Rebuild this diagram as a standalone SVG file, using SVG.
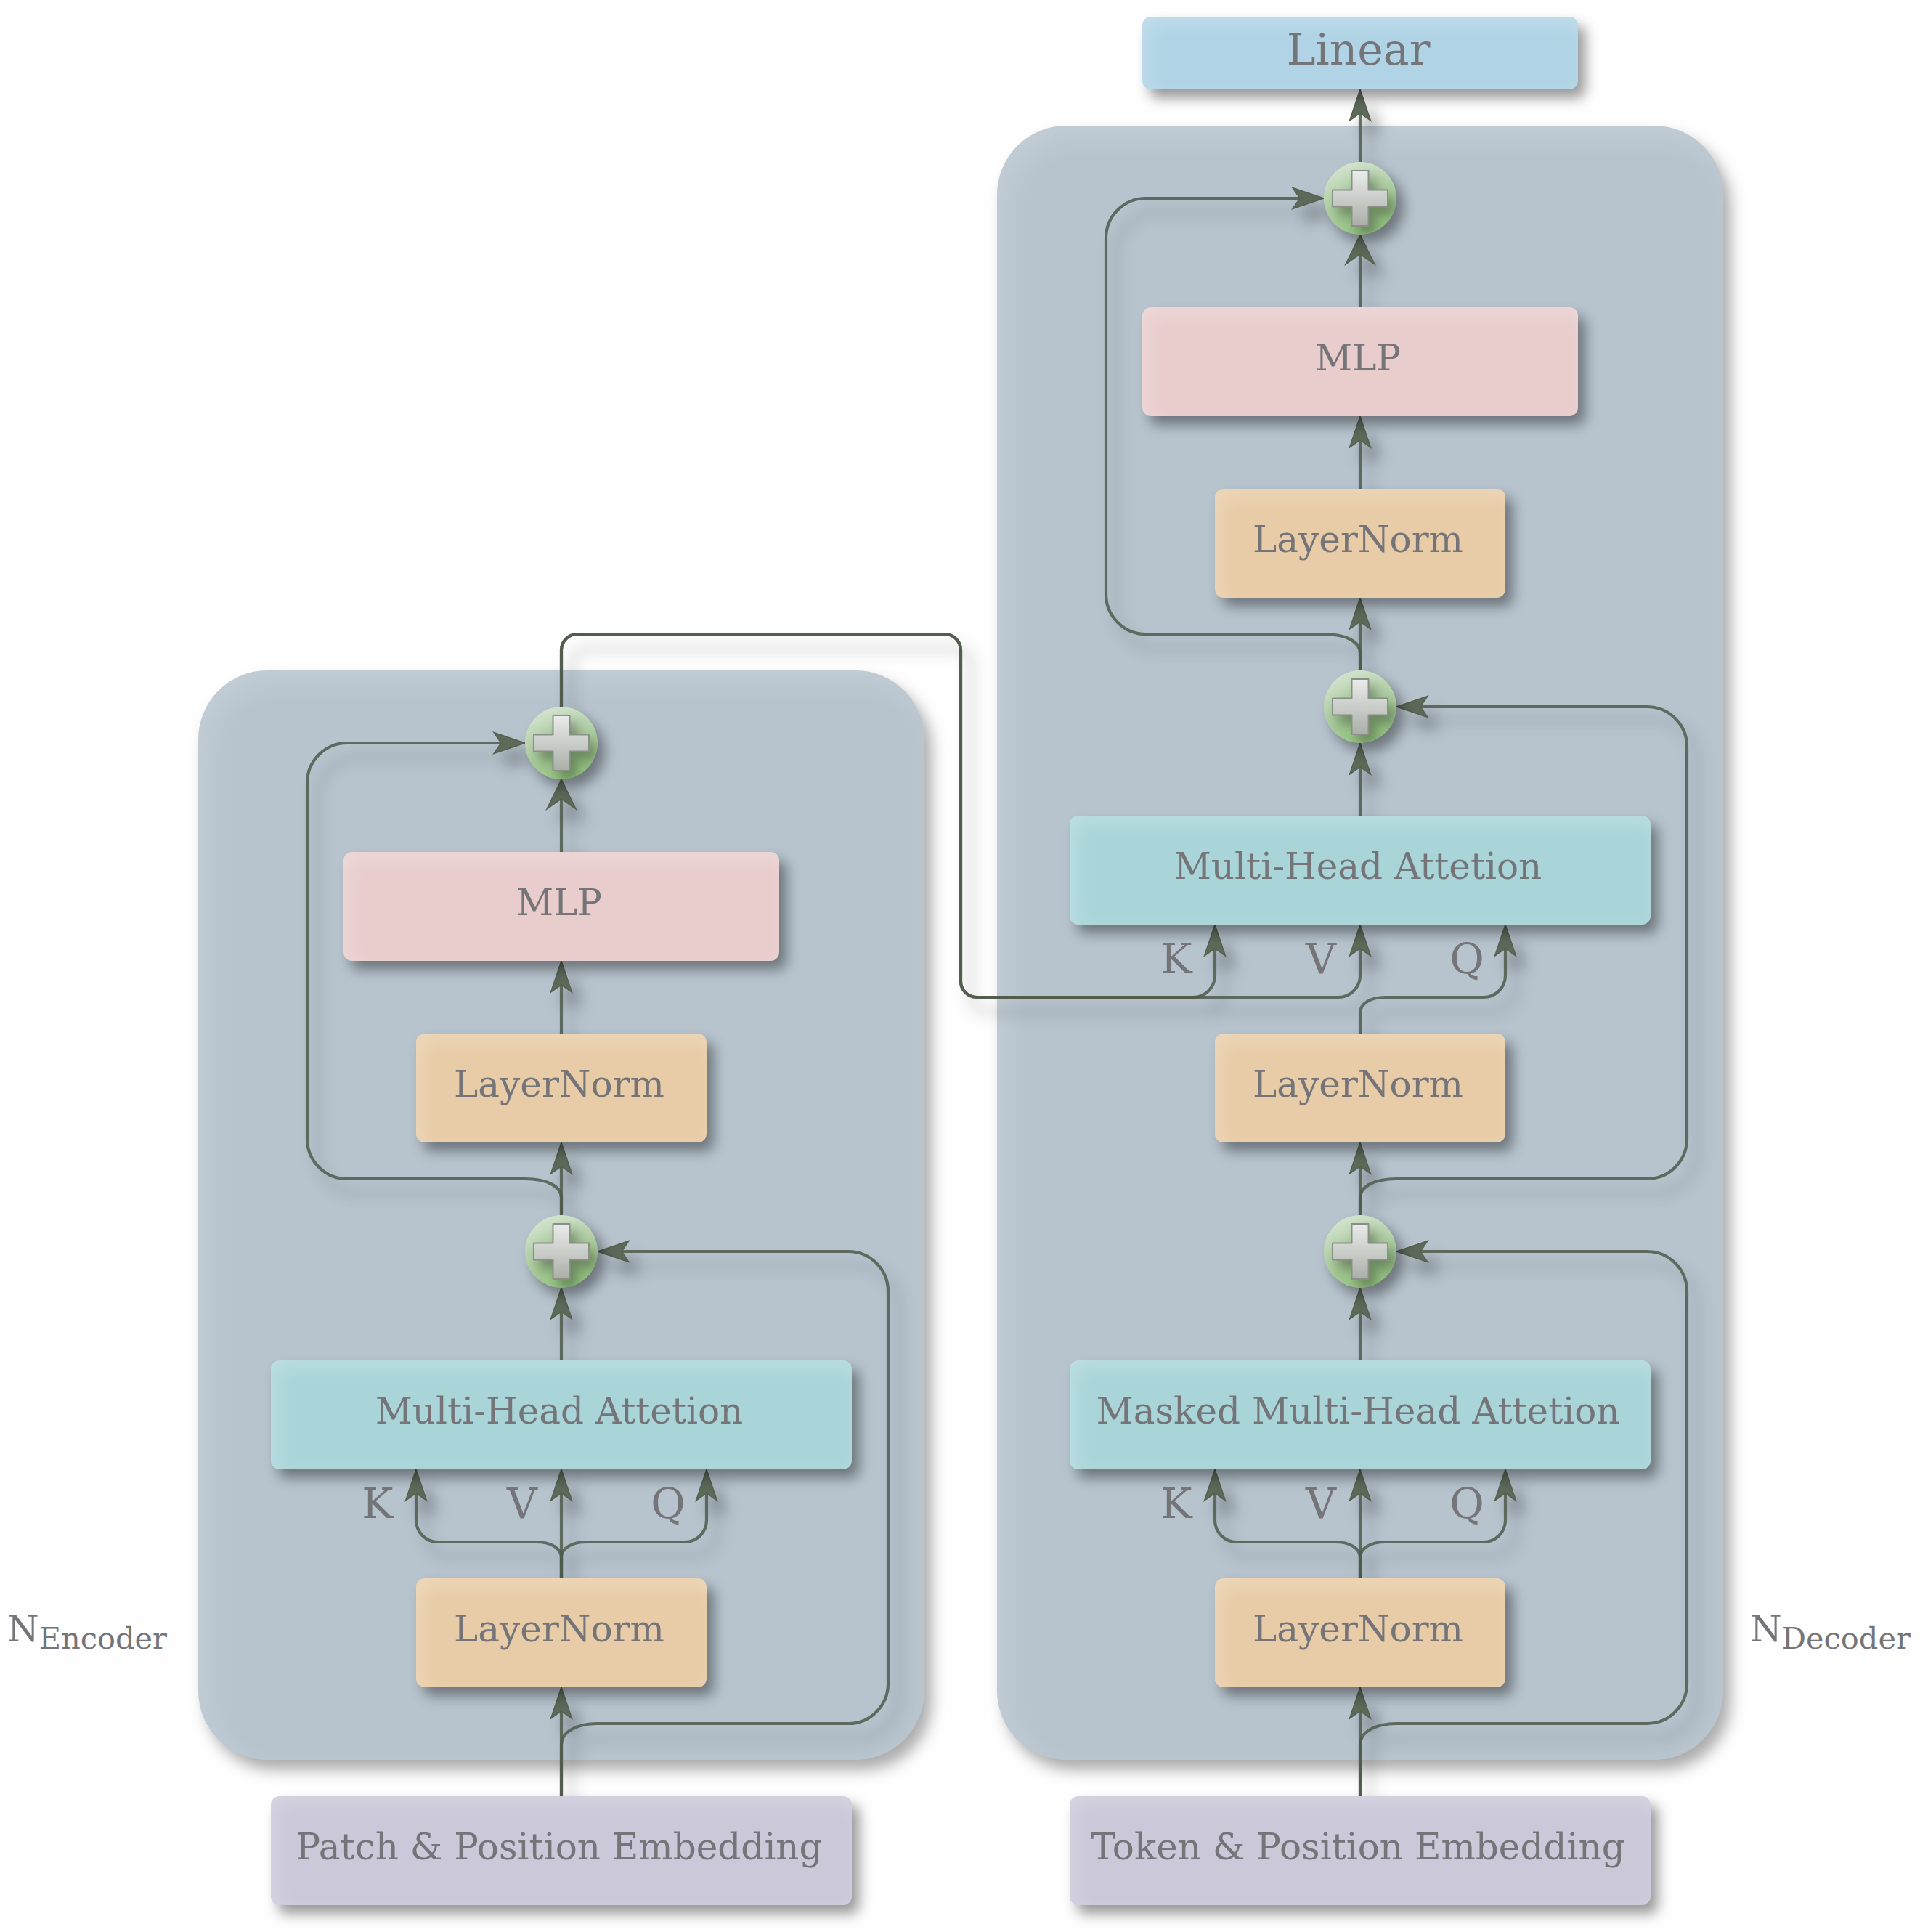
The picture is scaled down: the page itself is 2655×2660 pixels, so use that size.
<svg xmlns="http://www.w3.org/2000/svg" width="2655" height="2660" viewBox="0 0 2655 2660">
<defs>
<style>
text{font-family:"DejaVu Serif",serif;fill:#747479;text-anchor:middle;font-size:50px}
.lg{font-size:60px}
.kvq{font-size:58px}
.nl{text-anchor:start}
.sub{font-size:41.500px}
.group{fill:#b7c4ce}
.mlp{fill:#e9cdcd}
.norm{fill:#e8cca7}
.attn{fill:#a9d5d9}
.out{fill:#b0d4e5}
.embed{fill:#cbc8da}
.conn{fill:none;stroke:#4f5a4b;stroke-opacity:.85;stroke-width:4.2;marker-end:url(#head)}
.conn.big{marker-end:url(#headBig)}
.disc{fill:url(#discFill)}
.cross{fill:url(#crossFill);stroke:#899087;stroke-width:2;stroke-linejoin:round}
</style>
<linearGradient id="discFill" x1="0.25" y1="0" x2="0.55" y2="1">
<stop offset="0" stop-color="#cbdfc6"/><stop offset="0.55" stop-color="#a3c695"/><stop offset="1" stop-color="#8fc07a"/>
</linearGradient>
<linearGradient id="crossFill" x1="0" y1="0" x2="0" y2="1">
<stop offset="0" stop-color="#e9ecea"/><stop offset="1" stop-color="#abafa8"/>
</linearGradient>
<marker id="head" markerUnits="userSpaceOnUse" markerWidth="60" markerHeight="60" viewBox="-40 -30 60 60" refX="0" refY="0" orient="auto">
<path d="M14 0 L-29 -14.500 L-19 0 L-29 14.500 Z" fill="#5d6a5a" stroke="#55604f" stroke-width="1.500"/>
</marker>
<marker id="headBig" markerUnits="userSpaceOnUse" markerWidth="60" markerHeight="60" viewBox="-40 -30 60 60" refX="0" refY="0" orient="auto">
<path d="M14 0 L-27 -20 L-13 0 L-27 20 Z" fill="#5d6a5a" stroke="#55604f" stroke-width="1.500"/>
</marker>
<!-- soft drop shadow plus a light inner edge on the top and left sides -->
<filter id="lift" x="-50%" y="-50%" width="200%" height="200%" color-interpolation-filters="sRGB">
<feGaussianBlur in="SourceAlpha" stdDeviation="9" result="b"/>
<feOffset in="b" dx="10" dy="12" result="o"/>
<feFlood flood-color="#000" flood-opacity="0.4"/>
<feComposite in2="o" operator="in" result="shadow"/>
<feOffset in="SourceAlpha" dx="8" dy="10" result="shift"/>
<feGaussianBlur in="shift" stdDeviation="13" result="shiftBlur"/>
<feFlood flood-color="#fff" flood-opacity="0.22"/>
<feComposite in2="shiftBlur" operator="out" result="rim0"/>
<feComposite in="rim0" in2="SourceAlpha" operator="in" result="rim"/>
<feMerge><feMergeNode in="shadow"/><feMergeNode in="SourceGraphic"/><feMergeNode in="rim"/></feMerge>
</filter>
<filter id="liftWide" x="-10%" y="-10%" width="120%" height="120%" color-interpolation-filters="sRGB">
<feGaussianBlur in="SourceAlpha" stdDeviation="10" result="b"/>
<feOffset in="b" dx="10" dy="14" result="o"/>
<feFlood flood-color="#000" flood-opacity="0.32"/>
<feComposite in2="o" operator="in" result="shadow"/>
<feOffset in="SourceAlpha" dx="14" dy="16" result="shift"/>
<feGaussianBlur in="shift" stdDeviation="18" result="shiftBlur"/>
<feFlood flood-color="#fff" flood-opacity="0.16"/>
<feComposite in2="shiftBlur" operator="out" result="rim0"/>
<feComposite in="rim0" in2="SourceAlpha" operator="in" result="rim"/>
<feMerge><feMergeNode in="shadow"/><feMergeNode in="SourceGraphic"/><feMergeNode in="rim"/></feMerge>
</filter>
<filter id="lineShadow" filterUnits="userSpaceOnUse" x="0" y="0" width="2655" height="2660" color-interpolation-filters="sRGB">
<feGaussianBlur in="SourceAlpha" stdDeviation="10" result="b"/>
<feOffset in="b" dx="14" dy="20" result="o"/>
<feFlood flood-color="#000" flood-opacity="0.32"/>
<feComposite in2="o" operator="in" result="shadow"/>
<feMerge><feMergeNode in="shadow"/><feMergeNode in="SourceGraphic"/></feMerge>
</filter>
<filter id="crossShadow" x="-50%" y="-50%" width="200%" height="200%" color-interpolation-filters="sRGB">
<feGaussianBlur in="SourceAlpha" stdDeviation="8" result="b"/>
<feOffset in="b" dx="9" dy="11" result="o"/>
<feFlood flood-color="#000" flood-opacity="0.3"/>
<feComposite in2="o" operator="in" result="shadow"/>
<feMerge><feMergeNode in="shadow"/><feMergeNode in="SourceGraphic"/></feMerge>
</filter>
<clipPath id="discClip"><circle r="50"/></clipPath>
<path id="plusSign" d="M-11.500 -38 H11.500 V-11.500 H38 V11.500 H11.500 V38 H-11.500 V11.500 H-38 V-11.500 H-11.500 Z"/>
<!-- summing junction, drawn about the origin -->
<g id="addMark">
<circle class="disc" r="50" filter="url(#lift)"/>
<g clip-path="url(#discClip)"><use class="cross" href="#plusSign" filter="url(#crossShadow)"/></g>
</g>
</defs>

<rect width="2655" height="2660" fill="#fefefe"/>

<g id="encoder-block"><rect class="group" x="273" y="923" width="1000" height="1500" rx="95" filter="url(#liftWide)"/></g>
<g id="decoder-block"><rect class="group" x="1373" y="173" width="1000" height="2250" rx="95" filter="url(#liftWide)"/></g>

<g id="connectors" filter="url(#lineShadow)">
<!-- encoder -->
<path class="conn" d="M773 2473 V2337"/>
<path class="conn" d="M773 2473 V2402 C773 2384 795 2373 823 2373 H1168 A55 55 0 0 0 1223 2318 V1778 A55 55 0 0 0 1168 1723 H837"/>
<path class="conn" d="M773 2173 V2037"/>
<path class="conn" d="M773 2173 V2145 C773 2131 758 2123 738 2123 H603 A30 30 0 0 1 573 2093 V2037"/>
<path class="conn" d="M773 2173 V2145 C773 2131 788 2123 808 2123 H943 A30 30 0 0 0 973 2093 V2037"/>
<path class="conn" d="M773 1873 V1787"/>
<path class="conn" d="M773 1673 V1587"/>
<path class="conn" d="M773 1673 V1650 C773 1632 751 1623 723 1623 H478 A55 55 0 0 1 423 1568 V1078 A55 55 0 0 1 478 1023 H709"/>
<path class="conn" d="M773 1423 V1337"/>
<path class="conn big" d="M773 1173 V1087"/>
<!-- encoder output into the decoder attention -->
<path class="conn" d="M773 973 V895 A22 22 0 0 1 795 873 H1301 A22 22 0 0 1 1323 895 V1351 A22 22 0 0 0 1345 1373 H1643 A30 30 0 0 0 1673 1343 V1287"/>
<path class="conn" d="M773 973 V895 A22 22 0 0 1 795 873 H1301 A22 22 0 0 1 1323 895 V1351 A22 22 0 0 0 1345 1373 H1843 A30 30 0 0 0 1873 1343 V1287"/>
<!-- decoder -->
<path class="conn" d="M1873 2473 V2337"/>
<path class="conn" d="M1873 2473 V2402 C1873 2384 1895 2373 1923 2373 H2268 A55 55 0 0 0 2323 2318 V1778 A55 55 0 0 0 2268 1723 H1937"/>
<path class="conn" d="M1873 2173 V2037"/>
<path class="conn" d="M1873 2173 V2145 C1873 2131 1858 2123 1838 2123 H1703 A30 30 0 0 1 1673 2093 V2037"/>
<path class="conn" d="M1873 2173 V2145 C1873 2131 1888 2123 1908 2123 H2043 A30 30 0 0 0 2073 2093 V2037"/>
<path class="conn" d="M1873 1873 V1787"/>
<path class="conn" d="M1873 1673 V1587"/>
<path class="conn" d="M1873 1673 V1650 C1873 1632 1895 1623 1923 1623 H2268 A55 55 0 0 0 2323 1568 V1028 A55 55 0 0 0 2268 973 H1937"/>
<path class="conn" d="M1873 1423 V1395 C1873 1381 1888 1373 1908 1373 H2043 A30 30 0 0 0 2073 1343 V1287"/>
<path class="conn" d="M1873 1123 V1037"/>
<path class="conn" d="M1873 923 V837"/>
<path class="conn" d="M1873 923 V900 C1873 882 1851 873 1823 873 H1578 A55 55 0 0 1 1523 818 V328 A55 55 0 0 1 1578 273 H1809"/>
<path class="conn" d="M1873 673 V587"/>
<path class="conn big" d="M1873 423 V337"/>
<path class="conn" d="M1873 223 V137"/>
</g>

<g id="linear"><rect class="out" x="1573" y="23" width="600" height="100" rx="12" filter="url(#lift)"/><text class="lg" x="1870.500" y="89">Linear</text></g>
<g id="dec-mlp"><rect class="mlp" x="1573" y="423" width="600" height="150" rx="12" filter="url(#lift)"/><text x="1870" y="510">MLP</text></g>
<g id="dec-norm-3"><rect class="norm" x="1673" y="673" width="400" height="150" rx="12" filter="url(#lift)"/><text x="1870" y="760">LayerNorm</text></g>
<g id="dec-add-2" transform="translate(1873 273)"><use href="#addMark"/></g>
<g id="dec-add-1" transform="translate(1873 973)"><use href="#addMark"/></g>
<g id="dec-cross-attn"><rect class="attn" x="1473" y="1123" width="800" height="150" rx="12" filter="url(#lift)"/><text x="1870" y="1210">Multi-Head Attetion</text></g>
<g id="dec-norm-2"><rect class="norm" x="1673" y="1423" width="400" height="150" rx="12" filter="url(#lift)"/><text x="1870" y="1510">LayerNorm</text></g>
<g id="dec-add-0" transform="translate(1873 1723)"><use href="#addMark"/></g>
<g id="dec-masked-attn"><rect class="attn" x="1473" y="1873" width="800" height="150" rx="12" filter="url(#lift)"/><text x="1870" y="1960">Masked Multi-Head Attetion</text></g>
<g id="dec-norm-1"><rect class="norm" x="1673" y="2173" width="400" height="150" rx="12" filter="url(#lift)"/><text x="1870" y="2260">LayerNorm</text></g>
<g id="token-embedding"><rect class="embed" x="1473" y="2473" width="800" height="150" rx="12" filter="url(#lift)"/><text x="1870" y="2560">Token &amp; Position Embedding</text></g>

<g id="enc-add-2" transform="translate(773 1023)"><use href="#addMark"/></g>
<g id="enc-mlp"><rect class="mlp" x="473" y="1173" width="600" height="150" rx="12" filter="url(#lift)"/><text x="770" y="1260">MLP</text></g>
<g id="enc-norm-2"><rect class="norm" x="573" y="1423" width="400" height="150" rx="12" filter="url(#lift)"/><text x="770" y="1510">LayerNorm</text></g>
<g id="enc-add-1" transform="translate(773 1723)"><use href="#addMark"/></g>
<g id="enc-attn"><rect class="attn" x="373" y="1873" width="800" height="150" rx="12" filter="url(#lift)"/><text x="770" y="1960">Multi-Head Attetion</text></g>
<g id="enc-norm-1"><rect class="norm" x="573" y="2173" width="400" height="150" rx="12" filter="url(#lift)"/><text x="770" y="2260">LayerNorm</text></g>
<g id="patch-embedding"><rect class="embed" x="373" y="2473" width="800" height="150" rx="12" filter="url(#lift)"/><text x="770" y="2560">Patch &amp; Position Embedding</text></g>

<g id="head-labels">
<text class="kvq" x="520" y="2090">K</text><text class="kvq" x="719" y="2090">V</text><text class="kvq" x="920" y="2090">Q</text>
<text class="kvq" x="1620" y="2090">K</text><text class="kvq" x="1819" y="2090">V</text><text class="kvq" x="2020" y="2090">Q</text>
<text class="kvq" x="1620" y="1340">K</text><text class="kvq" x="1819" y="1340">V</text><text class="kvq" x="2020" y="1340">Q</text>
</g>
<g id="repeat-labels">
<text class="nl" x="10" y="2260">N<tspan class="sub" dy="10">Encoder</tspan></text>
<text class="nl" x="2410" y="2260">N<tspan class="sub" dy="10">Decoder</tspan></text>
</g>
</svg>
